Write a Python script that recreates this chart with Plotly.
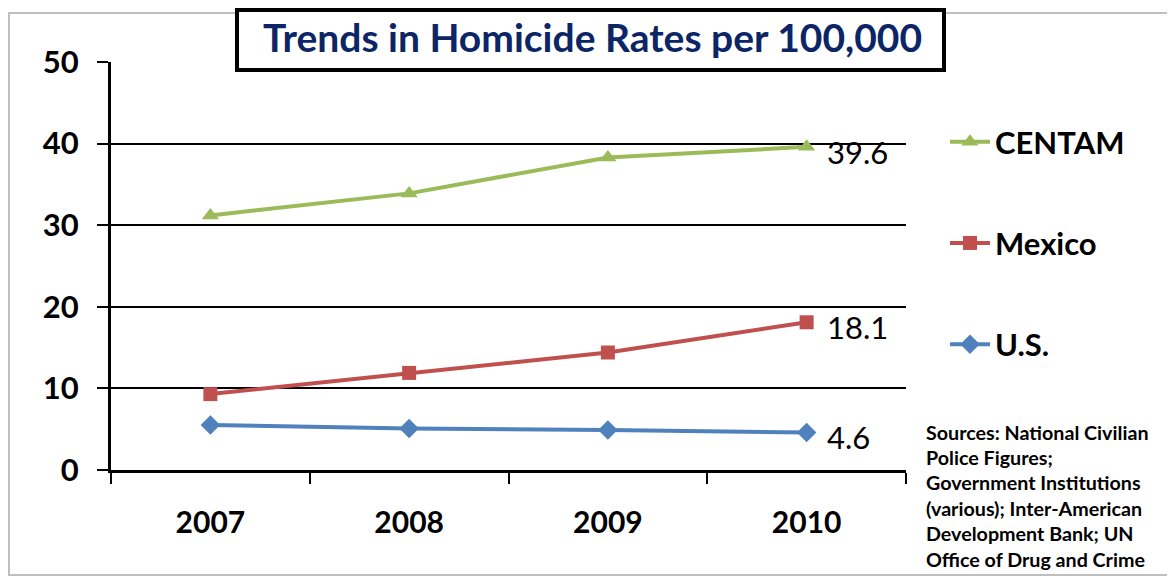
import plotly.graph_objects as go

years = ["2007", "2008", "2009", "2010"]
centam = [31.2, 33.9, 38.3, 39.6]
mexico = [9.3, 11.9, 14.4, 18.1]
us = [5.5, 5.1, 4.9, 4.6]
series_names = ["CENTAM", "Mexico", "U.S."]
series_colors = ["#9BBB59", "#C0504D", "#4F81BD"]
series_symbols = ["triangle-up", "square", "diamond"]
y_ticks = [0, 10, 20, 30, 40, 50]
title_text = "Trends in Homicide Rates per 100,000"
source_lines = [
    "Sources: National Civilian",
    "Police Figures;",
    "Government Institutions",
    "(various); Inter-American",
    "Development Bank; UN",
    "Office of Drug and Crime",
]

FONT = "Lato"
OFF = 8  # page body margin
W, H = 1175 - OFF, 577 - OFF
# plot area in window pixels: x 111..906, y 62..470
L, T = 111 - OFF, 62 - OFF
R = W - (906 - OFF)
B = H - (470 - OFF)
PW, PH = W - L - R, H - T - B


def px(x):
    return (x - 111) / PW


def py(y):
    return (470 - y) / PH


fig = go.Figure()
for name, vals, col, sym in zip(series_names, [centam, mexico, us], series_colors, series_symbols):
    fig.add_trace(go.Scatter(
        x=years, y=vals, name=name, mode="lines+markers",
        line=dict(color=col, width=4),
        marker=dict(symbol=sym, size=15 if sym != "square" else 14, color=col),
        legendgroup=name,
    ))
    fig.add_annotation(
        xref="x", yref="y",
        x=len(years) - 1, y=vals[-1], text=f"{vals[-1]:.1f}", showarrow=False,
        xanchor="left", yanchor="middle", xshift=18, yshift=-5,
        font=dict(family=FONT, size=31, color="#000000"),
    )

# outer chart border
fig.add_shape(type="rect", xref="paper", yref="paper",
              x0=px(9), x1=px(1171), y0=py(575), y1=py(13),
              line=dict(color="#BFBFBF", width=2), layer="below")
# title box
fig.add_shape(type="rect", xref="paper", yref="paper",
              x0=px(237), x1=px(944), y0=py(70), y1=py(10),
              line=dict(color="#000000", width=4), fillcolor="#FFFFFF", layer="above")
fig.add_annotation(xref="paper", yref="paper", x=px(592), y=py(37), text=f"<b>{title_text}</b>",
                   showarrow=False, xanchor="center", yanchor="middle",
                   font=dict(family=FONT, size=39, color="#0B2566"))

for i, line in enumerate(source_lines):
    fig.add_annotation(xref="paper", yref="paper", x=px(924), y=py(432 + i * 25.4),
                       text=f"<b>{line}</b>", showarrow=False, xanchor="left", yanchor="middle",
                       font=dict(family=FONT, size=19.7, color="#000000"))

fig.update_layout(
    width=W, height=H,
    margin=dict(l=L, r=R, t=T, b=B),
    paper_bgcolor="#FFFFFF", plot_bgcolor="#FFFFFF",
    showlegend=True,
    legend=dict(x=px(945), y=py(115), xanchor="left", yanchor="top",
                traceorder="grouped", tracegroupgap=58,
                font=dict(family=FONT, size=31, color="#000000", weight="bold"),
                bgcolor="rgba(0,0,0,0)", itemwidth=40),
    font=dict(family=FONT),
)
fig.update_xaxes(
    type="category", range=[-0.5, 3.5], tickson="boundaries",
    showline=True, linecolor="#000000", linewidth=3,
    ticks="outside", ticklen=11, tickwidth=2, tickcolor="#000000",
    showgrid=False, ticklabelstandoff=24,
    tickfont=dict(family=FONT, size=30, color="#000000", weight="bold"),
)
fig.update_yaxes(
    range=[0, 50], tickvals=y_ticks,
    showline=True, linecolor="#000000", linewidth=3,
    ticks="outside", ticklen=11, tickwidth=2, tickcolor="#000000",
    showgrid=True, gridcolor="#000000", gridwidth=2, zeroline=False,
    ticklabelstandoff=12,
    tickfont=dict(family=FONT, size=31, color="#000000", weight="bold"),
)
fig.write_html("out.html")
